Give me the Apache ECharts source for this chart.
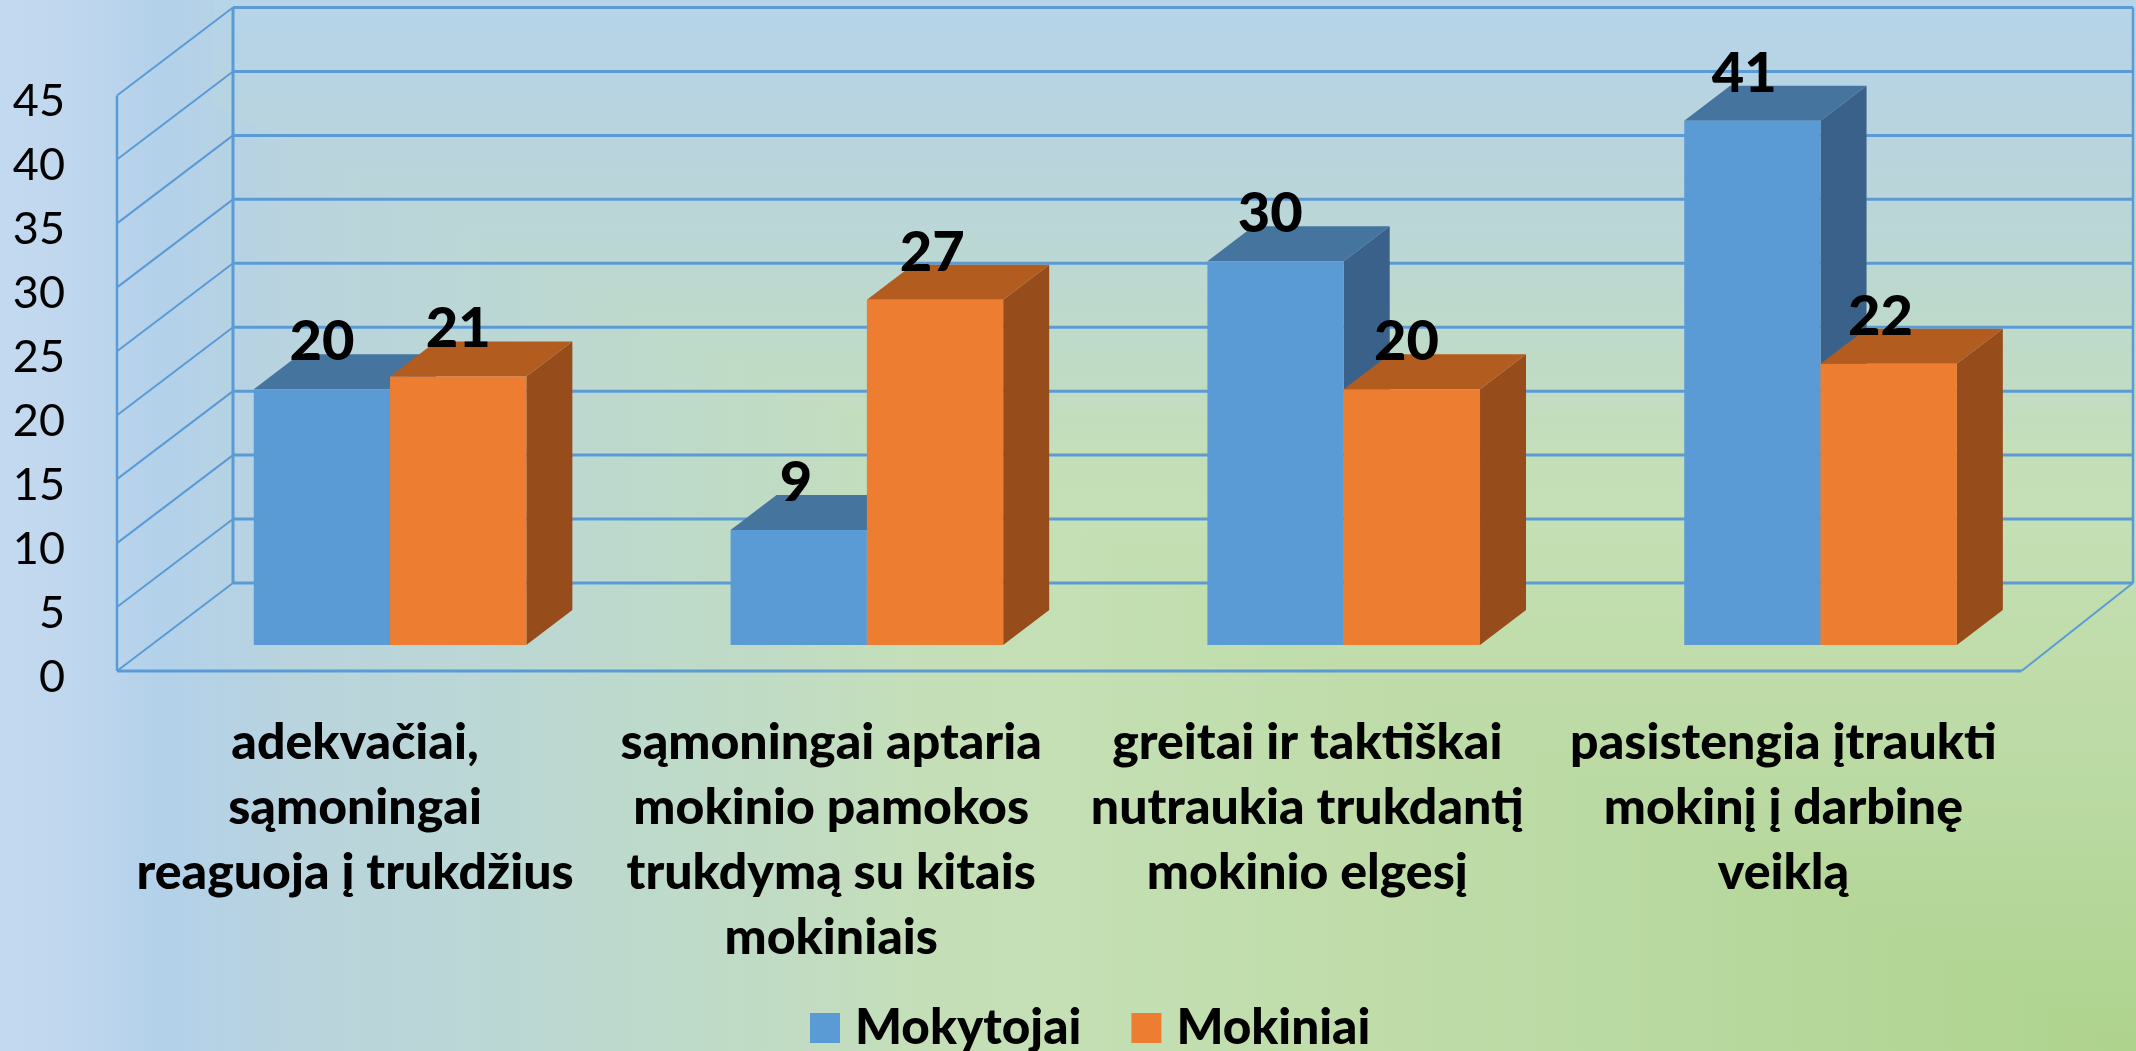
<!DOCTYPE html>
<html><head><meta charset="utf-8">
<style>html,body{margin:0;padding:0;width:100%;height:100%;overflow:hidden}#c{width:2136px;height:1051px}</style>
<script src="https://cdn.jsdelivr.net/npm/echarts@6/dist/echarts.min.js"></script>
</head><body><div id="c"></div>
<script>
const categories = [
  'adekvačiai,\nsąmoningai\nreaguoja į trukdžius',
  'sąmoningai aptaria\nmokinio pamokos\ntrukdymą su kitais\nmokiniais',
  'greitai ir taktiškai\nnutraukia trukdantį\nmokinio elgesį',
  'pasistengia įtraukti\nmokinį į darbinę\nveiklą'
];
const mokytojai = [20, 9, 30, 41];
const mokiniai = [21, 27, 20, 22];
const yTicks = [0, 5, 10, 15, 20, 25, 30, 35, 40, 45];
const seriesNames = ['Mokytojai', 'Mokiniai'];

const LINE = '#5B9BD5';
const BAR_W = 136.3, PLANE_X = 35, PLANE_Y = -26, DEPTH_X = 46, DEPTH_Y = -35;
const BACK_LX = 116, BACK_RX = 111.5, BACK_Y = -88;

function wallItem(params, api) {
  const rect = params.coordSys;
  const v = api.value(0);
  const y = api.coord([0, v])[1];
  const l = rect.x, r = rect.x + rect.width;
  const children = [
    { type: 'line', shape: { x1: l, y1: y, x2: l + BACK_LX, y2: y + BACK_Y }, style: { stroke: LINE, lineWidth: 2 } },
    { type: 'line', shape: { x1: l + BACK_LX, y1: y + BACK_Y, x2: r + BACK_RX, y2: y + BACK_Y }, style: { stroke: LINE, lineWidth: 3 } }
  ];
  if (v === 0) {
    const top = rect.y;
    children.push(
      { type: 'line', shape: { x1: l, y1: y, x2: r, y2: y }, style: { stroke: LINE, lineWidth: 3 } },
      { type: 'line', shape: { x1: l, y1: y, x2: l, y2: top }, style: { stroke: LINE, lineWidth: 2.5 } },
      { type: 'line', shape: { x1: l + BACK_LX, y1: y + BACK_Y, x2: l + BACK_LX, y2: top + BACK_Y }, style: { stroke: LINE, lineWidth: 3 } },
      { type: 'line', shape: { x1: r + BACK_RX, y1: y + BACK_Y, x2: r + BACK_RX, y2: top + BACK_Y }, style: { stroke: LINE, lineWidth: 2.5 } },
      { type: 'line', shape: { x1: r, y1: y, x2: r + BACK_RX, y2: y + BACK_Y }, style: { stroke: LINE, lineWidth: 2 } }
    );
  }
  return { type: 'group', children };
}

function barRenderer(side, front, topC, sideC) {
  return function (params, api) {
    const i = api.value(0);
    const p = api.coord([i, api.value(1)]);
    const b = api.coord([i, 0]);
    const shift = PLANE_X + 0.7 * i;
    const cx = p[0] + shift;
    const x0 = side === 0 ? cx - BAR_W : cx;
    const x1 = x0 + BAR_W;
    const yt = p[1] + PLANE_Y, yb = b[1] + PLANE_Y;
    return {
      type: 'group',
      children: [
        { type: 'polygon', shape: { points: [[x1, yt], [x1 + DEPTH_X, yt + DEPTH_Y], [x1 + DEPTH_X, yb + DEPTH_Y], [x1, yb]] }, style: { fill: sideC } },
        { type: 'polygon', shape: { points: [[x0, yt], [x0 + DEPTH_X, yt + DEPTH_Y], [x1 + DEPTH_X, yt + DEPTH_Y], [x1, yt]] }, style: { fill: topC } },
        { type: 'rect', shape: { x: x0, y: yt, width: BAR_W, height: yb - yt }, style: { fill: front } }
      ]
    };
  };
}

function labelRenderer(side) {
  return function (params, api) {
    const i = api.value(0);
    const p = api.coord([i, api.value(1)]);
    const cx = p[0] + PLANE_X - 2 * i + (side === 0 ? -BAR_W / 2 : BAR_W / 2);
    return {
      type: 'text', silent: true,
      style: {
        x: cx, y: p[1] + PLANE_Y - 47, text: String(api.value(1)),
        align: 'center', verticalAlign: 'middle',
        font: '900 56px Lato', fill: '#000'
      }
    };
  };
}

const W = 2136, H = 1051;
const bgStopsCommon = [
  { offset: 0.14, color: '#B9D4DD' },
  { offset: 0.23, color: '#BBD7D5' },
  { offset: 0.31, color: '#BEDACA' },
  { offset: 0.375, color: '#C1DCC2' },
  { offset: 0.43, color: '#C4DFB8' },
  { offset: 0.5, color: '#C4E0B4' },
  { offset: 0.64, color: '#BFDCA9' },
  { offset: 0.75, color: '#BADAA3' },
  { offset: 1, color: '#AED38D' }
];
const bgStopsV = [
  { offset: 0, color: '#B8D4E9' },
  { offset: 0.02, color: '#B6D4E8' },
  { offset: 0.06, color: '#B7D4E5' },
  { offset: 0.1, color: '#B8D4E0' }
].concat(bgStopsCommon);
const bgStopsH = [
  { offset: 0, color: '#C3D9F0' },
  { offset: 0.0375, color: '#BFD7EE' },
  { offset: 0.075, color: '#B3D1EA' },
  { offset: 0.1, color: '#B5D2E6' }
].concat(bgStopsCommon);

const chart = echarts.init(document.getElementById('c'), null, { width: W, height: H, renderer: 'canvas' });
chart.setOption({
  animation: false,
  backgroundColor: '#C0DBC5',
  graphic: [
    { type: 'rect', silent: true, z: -20, shape: { x: 0, y: 0, width: W, height: H },
      style: { fill: { type: 'linear', x: 0, y: 0, x2: 0, y2: 1, colorStops: bgStopsV } } },
    { type: 'polygon', silent: true, z: -19, shape: { points: [[0, 0], [W * 0.1, 0], [W * 0.1, H * 0.1], [W, H], [0, H]] },
      style: { fill: { type: 'linear', x: 0, y: 0, x2: 1, y2: 0, colorStops: bgStopsH } } }
  ],
  grid: { left: 117, right: 114.5, top: 95.5, bottom: 380, containLabel: false },
  legend: {
    left: 810, top: 1003, padding: 0, itemWidth: 30, itemHeight: 30, itemGap: 50, icon: 'rect',
    data: seriesNames,
    textStyle: { fontFamily: 'Lato', fontWeight: 900, fontSize: 49.5, color: '#000', padding: [0, 0, 0, 10] }
  },
  xAxis: {
    type: 'category', data: categories,
    axisLine: { show: false }, axisTick: { show: false },
    axisLabel: {
      interval: 0, margin: 39, fontFamily: 'Lato', fontWeight: 900, fontSize: 50,
      lineHeight: 65, color: '#000', align: 'center', verticalAlign: 'top'
    }
  },
  yAxis: {
    type: 'value', min: 0, max: 45, interval: 5,
    axisLine: { show: false }, axisTick: { show: false }, splitLine: { show: false },
    axisLabel: { margin: 52, fontFamily: 'Lato', fontSize: 45, color: '#000', verticalAlign: 'top', lineHeight: 12 }
  },
  series: [
    { type: 'custom', name: 'walls', coordinateSystem: 'cartesian2d', silent: true, z: 1,
      data: yTicks.map(v => [v]), encode: { y: 0 }, renderItem: wallItem },
    { type: 'custom', name: seriesNames[0], coordinateSystem: 'cartesian2d', z: 2, itemStyle: { color: '#5B9BD5' },
      data: mokytojai.map((v, i) => [i, v]), encode: { x: 0, y: 1 },
      renderItem: barRenderer(0, '#5B9BD5', '#45749F', '#39618A') },
    { type: 'custom', name: seriesNames[1], coordinateSystem: 'cartesian2d', z: 3, itemStyle: { color: '#ED7D31' },
      data: mokiniai.map((v, i) => [i, v]), encode: { x: 0, y: 1 },
      renderItem: barRenderer(1, '#ED7D31', '#B35C20', '#974C1C') },
    { type: 'custom', name: 'labels1', coordinateSystem: 'cartesian2d', z: 4, silent: true,
      data: mokytojai.map((v, i) => [i, v]), encode: { x: 0, y: 1 }, renderItem: labelRenderer(0) },
    { type: 'custom', name: 'labels2', coordinateSystem: 'cartesian2d', z: 4, silent: true,
      data: mokiniai.map((v, i) => [i, v]), encode: { x: 0, y: 1 }, renderItem: labelRenderer(1) }
  ]
});
</script></body></html>
